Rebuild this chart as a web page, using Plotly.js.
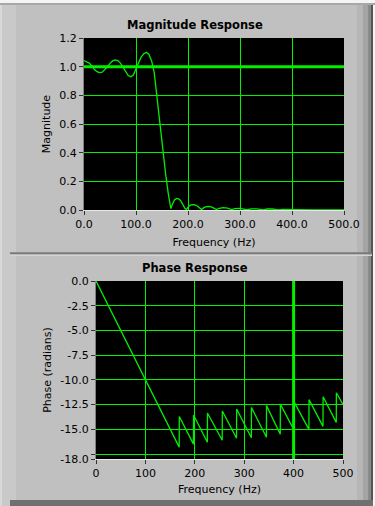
<!DOCTYPE html>
<html><head><meta charset="utf-8">
<script src="https://cdn.plot.ly/plotly-3.0.1.min.js"></script>
<style>html,body{margin:0;padding:0;background:#c0c0c0;}#chart{width:375px;height:506px;}</style>
</head><body><div id="chart"></div>
<script>
// ---- data ----
const magFreq = [0,5,10,15,20,25,30,35,40,45,50,55,60,65,70,75,80,85,90,95,100,105,110,115,120,125,130,135,138,142,147,152,157,162,165,167,170,174,178,182,186,190,194,197,201,206,212,218,223,226,231,238,245,251,255,260,268,276,284,290,300,310,314,322,332,345,352,362,373,382,392,401,410,418,428,440,460,500];
const magValue = [1.042,1.035,1.025,1.005,0.98,0.965,0.958,0.962,0.977,0.998,1.023,1.04,1.047,1.042,1.025,0.995,0.962,0.938,0.93,0.942,0.985,1.03,1.068,1.09,1.10,1.085,1.04,0.96,0.86,0.72,0.56,0.395,0.25,0.116,0.04,0.01,0.04,0.07,0.081,0.078,0.065,0.035,0.012,0.003,0.025,0.036,0.038,0.028,0.012,0.003,0.018,0.025,0.022,0.01,0.003,0.012,0.017,0.013,0.003,0.01,0.012,0.004,0.002,0.008,0.008,0.001,0.007,0.007,0.001,0.005,0.005,0.001,0.005,0.006,0.001,0.001,0.0,0.0];
const phaseFreq = [0,168.4,168.6,197.3,197.5,225.4,225.6,255.5,255.7,284.5,284.7,314.5,314.7,345.0,345.2,373.0,373.2,401.0,401.2,431.0,431.2,459.5,459.7,486.4,486.6,500];
const phaseValue = [0,-16.8,-13.7,-16.5,-13.55,-16.3,-13.35,-16.1,-13.15,-15.9,-12.95,-15.85,-12.8,-15.8,-12.6,-15.5,-12.45,-15.1,-12.25,-15.0,-12.0,-14.7,-11.7,-14.3,-11.3,-12.5];
const magXTicks = [0,100,200,300,400,500];
const magYTicks = [0,0.2,0.4,0.6,0.8,1.0,1.2];
const phaseXTicks = [0,100,200,300,400,500];
const phaseYTicks = [0,-2.5,-5,-7.5,-10,-12.5,-15,-17.5,-18];
const phaseYTickText = ['0.0','-2.5','-5.0','-7.5','-10.0','-12.5','-15.0','','-18.0'];
const magCursor = [1.0];
const phaseCursor = [400];
const panelTitles = ['Magnitude Response','Phase Response'];

const GREEN = '#00f000';
const FONT = 'DejaVu Sans';
const tickFont = {family: FONT, size: 11, color: '#000'};

const traces = [
  {x: magFreq, y: magValue, xaxis: 'x', yaxis: 'y', type: 'scatter', mode: 'lines',
   line: {color: GREEN, width: 1.3}, hoverinfo: 'skip'},
  {x: phaseFreq, y: phaseValue, xaxis: 'x2', yaxis: 'y2', type: 'scatter', mode: 'lines',
   line: {color: GREEN, width: 1.3}, hoverinfo: 'skip'}
];

const W = 375, H = 506;
const px = v => v / W;
const py = v => 1 - v / H;

const axisCommon = {
  showgrid: true, gridcolor: GREEN, gridwidth: 1, zeroline: false,
  ticks: 'outside', ticklen: 4, tickcolor: '#333', tickwidth: 1,
  tickfont: tickFont, fixedrange: true
};

const layout = {
  width: W, height: H,
  margin: {l: 0, r: 0, t: 0, b: 0},
  paper_bgcolor: '#c0c0c0',
  plot_bgcolor: '#000',
  showlegend: false,
  xaxis: Object.assign({}, axisCommon, {
    domain: [px(84), px(344)], anchor: 'y', range: [0, 500],
    tickvals: magXTicks, tickformat: '.1f',
    showline: true, linecolor: '#e8e8e8', linewidth: 1,
    title: {text: 'Frequency (Hz)', font: {family: FONT, size: 11, color: '#000'}, standoff: 8}
  }),
  yaxis: Object.assign({}, axisCommon, {
    domain: [py(210), py(38)], anchor: 'x', range: [0, 1.2],
    tickvals: magYTicks, tickformat: '.1f',
    showline: true, linecolor: '#808080', linewidth: 1,
    title: {text: 'Magnitude', font: {family: FONT, size: 11, color: '#000'}, standoff: 6}
  }),
  xaxis2: Object.assign({}, axisCommon, {
    domain: [px(96), px(343)], anchor: 'y2', range: [0, 500],
    tickvals: phaseXTicks,
    showline: true, linecolor: '#e8e8e8', linewidth: 1,
    title: {text: 'Frequency (Hz)', font: {family: FONT, size: 11, color: '#000'}, standoff: 6}
  }),
  yaxis2: Object.assign({}, axisCommon, {
    domain: [py(459), py(281)], anchor: 'x2', range: [-18, 0],
    tickvals: phaseYTicks, ticktext: phaseYTickText,
    showline: true, linecolor: '#808080', linewidth: 1,
    title: {text: 'Phase (radians)', font: {family: FONT, size: 11, color: '#000'}, standoff: 6}
  }),
  annotations: [
    {text: '<b>' + panelTitles[0] + '</b>', xref: 'paper', yref: 'paper', x: px(195), y: py(24.5),
     xanchor: 'center', yanchor: 'middle', showarrow: false, font: {family: FONT, size: 11.5, color: '#000'}},
    {text: '<b>' + panelTitles[1] + '</b>', xref: 'paper', yref: 'paper', x: px(195), y: py(267.5),
     xanchor: 'center', yanchor: 'middle', showarrow: false, font: {family: FONT, size: 11.5, color: '#000'}}
  ],
  shapes: [
    // panel frame decorations
    {type: 'rect', xref: 'paper', yref: 'paper', x0: 0, x1: 1, y0: py(3), y1: 1, fillcolor: '#f4f4f4', line: {width: 0}, layer: 'below'},
    {type: 'rect', xref: 'paper', yref: 'paper', x0: 0, x1: 1, y0: py(5), y1: py(3), fillcolor: '#a8a8a8', line: {width: 0}, layer: 'below'},
    {type: 'rect', xref: 'paper', yref: 'paper', x0: 0, x1: px(2), y0: 0, y1: py(5), fillcolor: '#d8d8d8', line: {width: 0}, layer: 'below'},
    {type: 'rect', xref: 'paper', yref: 'paper', x0: px(2), x1: px(16), y0: 0, y1: py(5), fillcolor: '#c9c9c9', line: {width: 0}, layer: 'below'},
    {type: 'rect', xref: 'paper', yref: 'paper', x0: px(357), x1: px(363), y0: 0, y1: py(5), fillcolor: '#b6b6b6', line: {width: 0}, layer: 'below'},
    {type: 'rect', xref: 'paper', yref: 'paper', x0: px(363), x1: px(368), y0: 0, y1: py(5), fillcolor: '#a4a4a4', line: {width: 0}, layer: 'below'},
    {type: 'rect', xref: 'paper', yref: 'paper', x0: px(368), x1: px(371), y0: 0, y1: py(5), fillcolor: '#8a8a8a', line: {width: 0}, layer: 'below'},
    {type: 'rect', xref: 'paper', yref: 'paper', x0: px(371), x1: px(373), y0: 0, y1: py(5), fillcolor: '#555555', line: {width: 0}, layer: 'below'},
    {type: 'rect', xref: 'paper', yref: 'paper', x0: px(373), x1: 1, y0: 0, y1: py(5), fillcolor: '#f4f4f4', line: {width: 0}, layer: 'below'},
    {type: 'rect', xref: 'paper', yref: 'paper', x0: px(10), x1: px(372), y0: py(254.5), y1: py(252.3), fillcolor: '#7a7a7a', line: {width: 0}, layer: 'below'},
    {type: 'rect', xref: 'paper', yref: 'paper', x0: px(10), x1: px(372), y0: py(256), y1: py(254.5), fillcolor: '#d4d4d4', line: {width: 0}, layer: 'below'},
    {type: 'rect', xref: 'paper', yref: 'paper', x0: px(10), x1: px(373), y0: 0, y1: py(500), fillcolor: '#707070', line: {width: 0}, layer: 'below'},
    // cursors
    {type: 'line', xref: 'x domain', x0: 0, x1: 1, yref: 'y', y0: magCursor[0], y1: magCursor[0], line: {color: GREEN, width: 3}},
    {type: 'line', xref: 'x2', x0: phaseCursor[0], x1: phaseCursor[0], yref: 'y2 domain', y0: 0, y1: 1, line: {color: GREEN, width: 3}}
  ]
};

Plotly.newPlot('chart', traces, layout, {staticPlot: true, displayModeBar: false});
</script>
</body></html>
